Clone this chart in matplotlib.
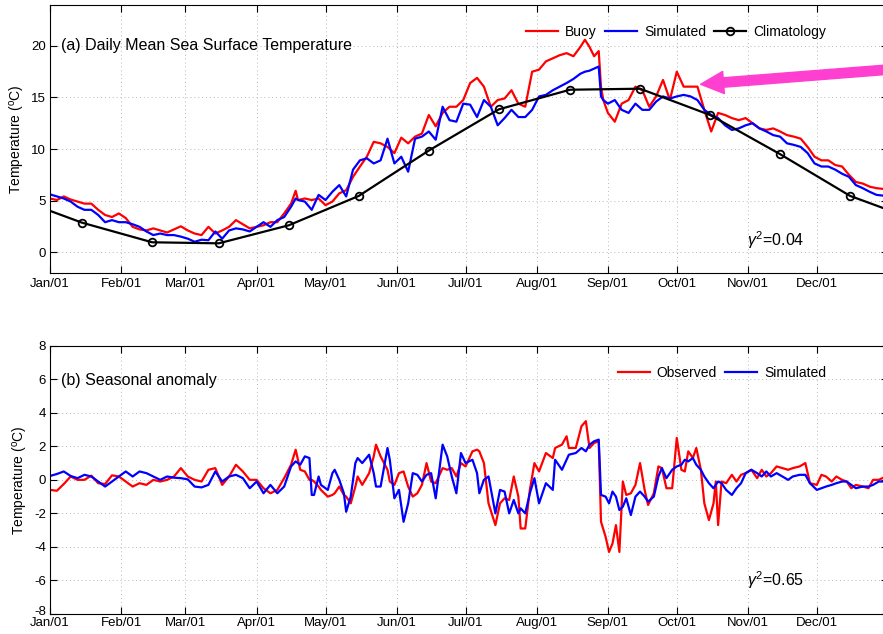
import matplotlib
matplotlib.use("Agg")
import matplotlib.pyplot as plt
from matplotlib.patches import FancyArrowPatch
from matplotlib.transforms import ScaledTranslation

plt.rcParams['font.family'] = ['Liberation Sans', 'DejaVu Sans']
plt.rcParams['mathtext.fontset'] = 'custom'
plt.rcParams['mathtext.rm'] = 'Liberation Sans'
plt.rcParams['mathtext.it'] = 'Liberation Sans:italic'
plt.rcParams['axes.unicode_minus'] = False

# ---------------- data ----------------
month_ticks = [0, 31, 59, 90, 120, 151, 181, 212, 243, 273, 304, 334]
month_labels = ['Jan/01', 'Feb/01', 'Mar/01', 'Apr/01', 'May/01', 'Jun/01',
                'Jul/01', 'Aug/01', 'Sep/01', 'Oct/01', 'Nov/01', 'Dec/01']

# panel (a): daily mean SST
sst_days = [0, 3, 6, 9, 12, 15, 18, 21, 24, 27, 30, 33, 36, 39, 42, 45, 48, 51, 54, 57,
            60, 63, 66, 69, 72, 75, 78, 81, 84, 87, 90, 93, 96, 99, 102, 105, 107, 108,
            111, 114, 117, 120, 123, 126, 129, 132, 135, 138, 141, 144, 147, 150, 153,
            156, 159, 162, 165, 168, 171, 174, 177, 180, 183, 186, 189, 192, 195, 198,
            201, 204, 207, 210, 213, 216, 219, 222, 225, 228, 231, 233, 235, 237, 239,
            240, 241, 243, 246, 249, 252, 255, 258, 261, 264, 267, 270, 273, 276, 279,
            282, 285, 288, 291, 294, 297, 300, 303, 306, 309, 312, 315, 318, 321, 324,
            327, 330, 333, 336, 339, 342, 345, 348, 351, 354, 357, 360, 364]
buoy = [5.2, 5.05, 5.4, 5.1, 4.9, 4.7, 4.7, 4.1, 3.6, 3.4, 3.75, 3.3, 2.45, 2.2, 2.1, 2.3,
        2.1, 1.9, 2.2, 2.5, 2.1, 1.8, 1.65, 2.45, 1.8, 2.1, 2.45, 3.1, 2.7, 2.3, 2.45, 2.6,
        2.9, 2.9, 3.75, 4.7, 5.95, 5.05, 5.2, 5.05, 5.2, 4.55, 4.9, 5.7, 6.0, 7.3, 8.3,
        9.25, 10.7, 10.55, 10.2, 9.6, 11.1, 10.55, 11.2, 11.5, 13.3, 12.2, 13.5, 14.1,
        14.1, 14.75, 16.4, 16.9, 16.05, 14.1, 14.75, 14.9, 15.7, 14.4, 14.1, 17.5, 17.7,
        18.5, 18.8, 19.1, 19.3, 19.0, 19.9, 20.6, 19.9, 19.0, 19.5, 16.0, 14.75, 13.5,
        12.65, 14.4, 14.75, 16.05, 15.7, 14.1, 15.1, 16.7, 14.75, 17.5, 16.05, 16.05,
        16.05, 13.8, 11.7, 13.5, 13.3, 13.0, 12.8, 13.0, 12.5, 12.0, 11.85, 12.0, 11.7,
        11.35, 11.2, 11.0, 10.2, 9.25, 8.9, 8.9, 8.45, 8.3, 7.5, 6.8, 6.65, 6.35, 6.2, 6.1]
sim_sst = [5.6, 5.4, 5.2, 4.9, 4.4, 4.1, 4.1, 3.6, 2.9, 3.1, 2.9, 2.9, 2.7, 2.45, 2.0, 1.65,
           1.8, 1.65, 1.65, 1.5, 1.3, 1.0, 1.2, 1.15, 2.0, 1.3, 2.1, 2.3, 2.2, 2.0, 2.45, 2.9,
           2.45, 3.1, 3.4, 4.4, 5.2, 5.05, 4.9, 4.1, 5.55, 5.05, 5.85, 6.5, 5.4, 8.0, 8.9,
           9.1, 8.6, 8.9, 11.0, 8.6, 9.25, 7.8, 11.0, 11.2, 11.7, 10.9, 14.1, 12.8, 12.65,
           14.4, 14.3, 13.1, 14.75, 14.1, 12.3, 13.0, 13.8, 13.1, 13.1, 13.8, 15.1, 15.25,
           15.7, 16.05, 16.4, 16.8, 17.3, 17.5, 17.6, 17.8, 18.0, 15.1, 14.75, 14.4, 14.75,
           13.8, 13.5, 14.4, 13.8, 13.8, 14.6, 15.1, 14.9, 15.1, 15.25, 15.1, 14.75, 13.8,
           13.3, 13.0, 12.3, 11.85, 12.0, 12.3, 12.5, 12.0, 11.7, 11.35, 11.2, 10.55, 10.4,
           10.2, 9.6, 8.6, 8.3, 8.3, 8.0, 7.6, 7.3, 6.5, 6.2, 5.85, 5.55, 5.45]

clim_days = [0, 14, 44.5, 73.5, 104, 134.5, 165, 195.5, 226.5, 257, 287.5, 318, 348.5, 365]
clim_vals = [4.0, 2.85, 0.95, 0.85, 2.6, 5.45, 9.85, 13.85, 15.75, 15.85, 13.3, 9.5, 5.45, 4.1]

# panel (b): seasonal anomaly
anom_days = [0, 3, 6, 9, 12, 15, 18, 21, 24, 27, 30, 33, 36, 39, 42, 45, 48, 51, 54, 57,
             60, 63, 66, 69, 72, 75, 78, 81, 84, 87, 90, 93, 96, 99, 102, 105, 107, 109,
             111, 113, 114, 115, 117, 118, 121, 123, 124, 126, 128, 129, 131, 133, 134,
             136, 139, 141, 142, 144, 147, 148, 150, 152, 154, 156, 158, 160, 162, 164,
             166, 168, 171, 173, 175, 177, 179, 181, 184, 186, 187, 189, 191, 194, 196,
             198, 200, 202, 204, 205, 207, 209, 211, 213, 216, 219, 220, 223, 225, 226,
             229, 231.5, 233.4, 235, 237, 239, 240, 242, 243.5, 245, 246.5, 248, 249.5,
             251, 253, 255, 257, 259, 260.5, 263, 265, 266.5, 268.5, 271, 273, 275, 276.5,
             278, 280, 281.5, 283.5, 285, 287, 289, 290, 291, 292.5, 294.5, 297, 299, 301,
             303, 305.5, 308, 310, 312, 314, 316.5, 319, 321.5, 323.5, 326.5, 329, 331,
             334, 336, 338, 340.5, 342.5, 345, 347, 349, 351, 354, 356.5, 358.5, 361, 364]
observed = [-0.6, -0.65, -0.25, 0.2, 0.0, 0.0, 0.25, -0.2, -0.25, 0.27, 0.2, -0.1, -0.4,
            -0.2, -0.3, 0.0, -0.1, 0.0, 0.2, 0.7, 0.2, 0.0, -0.1, 0.6, 0.7, -0.3, 0.2, 0.9,
            0.5, 0.0, 0.0, -0.5, -0.8, -0.6, 0.1, 0.9, 1.8, 0.6, 0.5, 0.0, 0.0, -0.1, -0.4,
            -0.6, -1.0, -0.9, -0.8, -0.4, -0.9, -1.0, -1.4, -0.4, 0.2, -0.3, 0.4, 1.4, 2.1,
            1.4, 0.6, -0.1, -0.3, 0.4, 0.5, -0.4, -1.0, -0.8, -0.3, 1.0, -0.1, -0.2, 0.7,
            0.6, 0.7, 0.2, 1.0, 0.8, 1.7, 1.8, 1.7, 1.0, -1.4, -2.7, -1.4, -1.1, -1.2, 0.2,
            -1.0, -2.9, -2.9, -0.6, 1.0, 0.5, 1.6, 1.3, 1.9, 2.1, 2.6, 1.9, 1.9, 3.2, 3.5,
            1.9, 2.2, 2.3, -2.5, -3.4, -4.3, -3.8, -2.7, -4.3, -0.1, -0.9, -0.8, -0.3, 1.0,
            -0.6, -1.5, -0.8, 0.8, 0.7, -0.5, -0.5, 2.5, 0.6, 0.5, 1.7, 1.3, 1.9, 0.6, -1.4,
            -2.4, -1.4, -0.1, -2.7, -0.1, -0.2, 0.3, -0.1, 0.3, 0.4, 0.6, 0.1, 0.6, 0.2, 0.4,
            0.8, 0.7, 0.6, 0.7, 0.8, 1.0, -0.2, -0.3, 0.3, 0.2, -0.1, 0.2, 0.0, -0.1, -0.5,
            -0.3, -0.4, -0.5, 0.0, 0.0, 0.2]
simulated = [0.23, 0.35, 0.5, 0.23, 0.1, 0.3, 0.2, -0.1, -0.4, -0.1, 0.2, 0.5, 0.2, 0.5,
             0.4, 0.2, 0.0, 0.2, 0.13, 0.1, 0.03, -0.4, -0.45, -0.3, 0.5, -0.1, 0.2, 0.3,
             0.1, -0.5, -0.1, -0.8, -0.3, -0.8, -0.4, 0.8, 1.1, 0.9, 1.4, 1.3, -0.9, -0.9,
             0.2, -0.3, -0.6, 0.4, 0.6, 0.0, -0.8, -1.9, -1.0, 1.0, 1.3, 1.0, 1.5, 0.4, -0.4,
             -0.4, 1.9, 1.2, -1.1, -0.6, -2.5, -1.4, 0.4, 0.3, -0.1, 0.3, 0.4, -1.1, 2.1,
             1.4, 0.2, -0.8, 1.6, 1.0, 1.2, 0.4, -0.8, 0.0, 0.2, -2.0, -0.6, -0.7, -2.0,
             -1.2, -2.0, -1.7, -2.0, -0.8, 0.1, -1.4, -0.2, -0.6, 1.2, 0.6, 1.2, 1.5, 1.6,
             1.9, 1.7, 2.1, 2.3, 2.4, -0.9, -1.0, -1.4, -0.7, -1.0, -1.8, -1.6, -1.1, -2.1,
             -1.0, -0.7, -1.0, -1.3, -1.0, 0.2, 0.7, 0.1, 0.6, 0.8, 0.9, 1.2, 1.1, 1.3, 0.9,
             0.6, 0.2, -0.2, -0.5, -0.3, -0.1, -0.2, -0.6, -0.9, -0.5, -0.2, 0.4, 0.6, 0.4,
             0.2, 0.5, 0.2, 0.4, 0.2, 0.0, 0.2, 0.3, 0.3, -0.2, -0.6, -0.5, -0.4, -0.3, -0.2,
             -0.1, -0.1, -0.3, -0.5, -0.4, -0.4, -0.3, -0.1, -0.1]

# ---------------- figure ----------------
W, H = 883, 634
fig = plt.figure(figsize=(W / 100, H / 100), dpi=100)
ax1 = fig.add_axes([50 / W, 1 - 272.7 / H, 838 / W, 268 / H])
ax2 = fig.add_axes([50 / W, 1 - 614 / H, 838 / W, 268.3 / H])

grid_kw = dict(color='#b8b8b8', linestyle=(0, (1, 3)), linewidth=0.7)


def style(ax, ylim, yticks, xpad):
    ax.set_xlim(0, 365)
    ax.set_ylim(*ylim)
    ax.set_xticks(month_ticks)
    ax.set_xticklabels(month_labels)
    ax.set_yticks(yticks)
    ax.tick_params(direction='in', length=5, width=0.8, top=True, right=True,
                   labelsize=9.5, colors='black')
    ax.tick_params(axis='x', pad=xpad)
    ax.tick_params(axis='y', pad=3)
    ax.grid(True, **grid_kw)
    ax.set_axisbelow(True)
    for s in ax.spines.values():
        s.set_linewidth(0.8)
    ax.set_ylabel('Temperature ($^{\\rm o}$C)', fontsize=10, labelpad=3)


style(ax1, (-2, 24), [0, 5, 10, 15, 20], 4)
style(ax2, (-8, 8), list(range(-8, 9, 2)), 2.5)

# nudge the lowest y label of panel (b) a little up so it clears "Jan/01"
lowest = ax2.get_yticklabels()[0]
lowest.set_transform(lowest.get_transform() + ScaledTranslation(0, 2.5 / 72, fig.dpi_scale_trans))

# panel (a)
ax1.plot(sst_days, buoy, color='#ff0000', lw=1.6, label='Buoy')
ax1.plot(sst_days, sim_sst, color='#0000ff', lw=1.6, label='Simulated')
ax1.plot(clim_days, clim_vals, color='black', lw=1.6, marker='o', markersize=5.5,
         markerfacecolor='none', markeredgewidth=1.3, markevery=list(range(1, 13)),
         label='Climatology')
ax1.text(0.013, 0.846, '(a) Daily Mean Sea Surface Temperature', transform=ax1.transAxes,
         fontsize=11.5, va='center', ha='left')
ax1.text(747, H - 240, '$\\gamma^2$=0.04', transform=None, fontsize=11.5,
         va='center', ha='left')
ax1.legend(loc='center right', bbox_to_anchor=(0.926, 0.898), ncol=3, frameon=False,
           fontsize=10, handlelength=2.3, handletextpad=0.5, columnspacing=0.6,
           borderaxespad=0, borderpad=0)

# pink arrow
arrow = FancyArrowPatch((372.4, 17.83), (283.4, 16.28),
                        arrowstyle='simple,head_length=16.5,head_width=16,tail_width=6.8',
                        mutation_scale=1, color='#ff3fcf', shrinkA=0, shrinkB=0,
                        clip_on=False, zorder=5)
ax1.add_patch(arrow)

# panel (b)
ax2.plot(anom_days, observed, color='#ff0000', lw=1.6, label='Observed')
ax2.plot(anom_days, simulated, color='#0000ff', lw=1.6, label='Simulated')
ax2.text(0.013, 0.87, '(b) Seasonal anomaly', transform=ax2.transAxes,
         fontsize=11.5, va='center', ha='left')
ax2.text(747, H - 580, '$\\gamma^2$=0.65', transform=None, fontsize=11.5,
         va='center', ha='left')
ax2.legend(loc='center right', bbox_to_anchor=(0.926, 0.897), ncol=2, frameon=False,
           fontsize=10, handlelength=2.3, handletextpad=0.5, columnspacing=0.6,
           borderaxespad=0, borderpad=0)

fig.savefig('out.png', dpi=100)
